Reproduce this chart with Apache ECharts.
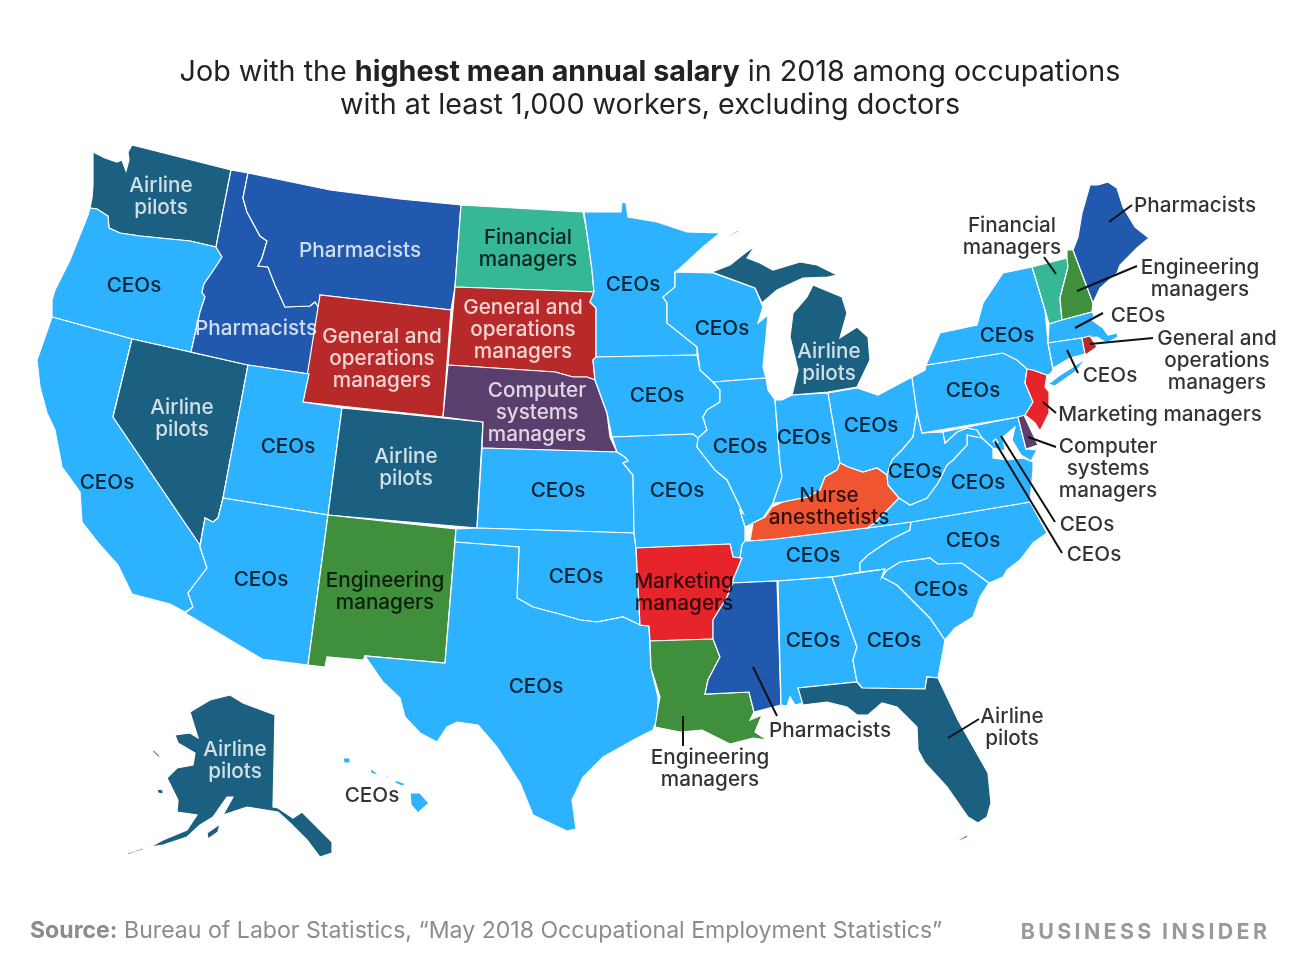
<!DOCTYPE html>
<html>
<head>
<meta charset="utf-8">
<style>html,body{margin:0;background:#fff}#container{width:1300px;height:975px}</style>
<script src="https://cdn.jsdelivr.net/npm/echarts@6/dist/echarts.min.js"></script>
</head>
<body>
<div id="container"></div>
<script>
// categories and which states fall in each
var jobs = ['CEOs','Airline pilots','Pharmacists','Financial managers','General and operations managers',
            'Computer systems managers','Engineering managers','Marketing managers','Nurse anesthetists'];
var ceoStates = ['OR','CA','UT','AZ','MN','WI','IA','IL','IN','OH','PA','NY','MA','CT','MD','DC','VA','WV','NC','SC','TN','AL','GA','MO','KS','OK','TX','HI'];
var airlineStates = ['WA','NV','CO','MI','FL','AK'];
var pharmacistStates = ['ID','MT','MS','ME'];
var financialStates = ['ND','VT'];
var generalStates = ['WY','SD','RI'];
var computerStates = ['NE','DE'];
var engineeringStates = ['NM','LA','NH'];
var marketingStates = ['AR','NJ'];
var nurseStates = ['KY'];
var jobStates = [ceoStates,airlineStates,pharmacistStates,financialStates,generalStates,computerStates,engineeringStates,marketingStates,nurseStates];
var jobColors = ['#2DB2FF','#1B6081','#2059AD','#36B897','#B82A2A','#5A3F6E','#3F8F3C','#E8242B','#EE5530'];

// hand traced state shapes, in the picture's own units
var shapes = {
  WA:[[[93,152],[105,158],[117,162],[122,160],[126,171],[129,160],[128,152],[132,145],[231,170],[216,247],[190,241],[170,239],[140,236],[120,233],[109,228],[108,216],[97,209],[90,208],[92,198],[93,185],[93,170]]],
  OR:[[[90,208],[97,209],[108,216],[109,228],[120,233],[140,236],[170,239],[190,241],[216,247],[222,257],[215,268],[204,284],[202,292],[205,297],[200,312],[191,352],[132,339],[52,317],[52,300],[55,290],[70,260],[80,235],[88,215]]],
  CA:[[[52,317],[132,339],[113,417],[200,545],[200,547],[207,568],[188,593],[193,607],[185,612],[170,604],[132,594],[118,565],[100,545],[82,522],[80,492],[62,467],[55,430],[47,413],[40,387],[37,360]]],
  NV:[[[132,339],[248,365],[223,498],[218,518],[213,522],[205,518],[200,545],[113,417]]],
  ID:[[[231,170],[248,173],[243,198],[247,212],[260,236],[267,241],[262,258],[258,266],[268,267],[275,285],[285,307],[310,306],[315,302],[319,308],[309,374],[248,365],[191,352],[200,312],[205,297],[202,292],[204,284],[215,268],[222,257],[216,247]]],
  MT:[[[248,173],[330,190],[400,199],[461,205],[455,287],[451,310],[320,295],[319,308],[315,302],[310,306],[285,307],[275,285],[268,267],[258,266],[262,258],[267,241],[260,236],[247,212],[243,198]]],
  WY:[[[320,295],[451,310],[443,417],[303,402]]],
  UT:[[[248,365],[309,374],[303,402],[342,408],[328,515],[223,498]]],
  CO:[[[342,408],[483,422],[477,528],[328,515]]],
  AZ:[[[223,498],[328,515],[308,665],[262,659],[185,613],[193,607],[188,593],[207,568],[200,547],[205,518],[213,522],[218,518]]],
  NM:[[[328,515],[456,529],[445,663],[365,656],[363,660],[327,657],[325,667],[308,665]]],
  ND:[[[461,205],[583,212],[587,233],[592,270],[594,292],[455,287]]],
  SD:[[[455,287],[594,292],[590,302],[596,308],[596,357],[593,360],[595,380],[587,377],[573,377],[555,372],[448,365]]],
  NE:[[[448,365],[555,372],[573,377],[587,377],[595,380],[607,413],[610,437],[617,452],[482,448],[483,422],[443,417]]],
  KS:[[[482,448],[617,452],[625,457],[628,461],[623,463],[633,475],[634,533],[477,528]]],
  OK:[[[456,529],[477,528],[634,533],[636,548],[640,625],[623,617],[597,622],[580,620],[563,615],[533,607],[517,598],[519,547],[455,542]]],
  TX:[[[455,542],[519,547],[517,598],[533,607],[563,615],[580,620],[597,622],[623,617],[640,625],[649,626],[651,668],[658,697],[658,717],[653,730],[637,738],[603,757],[583,777],[572,800],[576,829],[567,831],[533,815],[520,783],[497,747],[478,725],[457,722],[447,727],[437,742],[420,733],[405,717],[400,698],[383,682],[365,656],[445,663]]],
  MN:[[[584,212],[621,212],[622,202],[626,203],[628,217],[657,222],[687,232],[720,233],[703,247],[678,270],[675,272],[675,287],[663,297],[667,303],[667,323],[697,347],[697,355],[596,357],[596,308],[590,302],[594,292],[592,270],[587,233]]],
  IA:[[[596,357],[697,355],[700,370],[713,382],[720,390],[720,402],[707,410],[703,417],[707,430],[698,438],[693,434],[612,437],[607,413],[595,380],[593,360]]],
  MO:[[[612,437],[693,434],[698,438],[697,447],[715,470],[727,480],[743,513],[740,510],[745,527],[745,541],[742,545],[740,558],[733,557],[730,544],[636,548],[634,533],[633,475],[623,463],[628,461],[625,457],[617,452]]],
  AR:[[[636,548],[730,544],[733,557],[742,558],[733,580],[727,597],[713,620],[713,639],[650,641],[649,626],[640,625]]],
  LA:[[[650,641],[713,639],[720,657],[708,680],[705,694],[749,692],[754,712],[750,720],[762,715],[755,732],[767,740],[753,738],[730,744],[702,730],[680,732],[655,727],[658,707],[660,697],[651,668]]],
  WI:[[[675,272],[713,273],[755,288],[763,307],[758,323],[768,315],[765,347],[763,367],[766,378],[713,382],[700,370],[697,347],[667,323],[667,303],[663,297],[675,287]]],
  IL:[[[713,382],[766,378],[768,390],[775,400],[780,463],[782,477],[773,503],[763,518],[745,527],[740,510],[743,513],[727,480],[715,470],[697,447],[698,438],[707,430],[703,417],[707,410],[720,402],[720,390]]],
  IN:[[[775,400],[782,400],[792,395],[828,393],[840,463],[837,470],[825,477],[820,490],[808,497],[783,502],[773,503],[782,477],[780,463]]],
  OH:[[[828,393],[857,388],[878,395],[912,377],[917,412],[913,437],[902,450],[892,460],[887,475],[877,468],[863,472],[848,467],[840,463]]],
  MI:[[[792,395],[828,392],[857,387],[870,360],[868,337],[857,327],[840,338],[847,313],[842,297],[813,285],[807,297],[793,313],[790,337],[798,370]],
      [[712,272],[730,265],[745,253],[755,246],[747,258],[760,263],[773,270],[800,262],[817,265],[837,275],[828,277],[803,278],[777,290],[762,303],[755,288]],
      [[730,235],[740,229],[738,232],[731,236]]],
  KY:[[[750,541],[776,539],[867,528],[875,523],[899,498],[888,485],[887,475],[877,468],[863,472],[848,467],[840,463],[837,470],[825,477],[820,490],[808,497],[783,502],[772,507],[765,517],[753,523]]],
  TN:[[[745,541],[750,541],[776,539],[867,528],[911,522],[910,530],[890,540],[868,555],[860,563],[860,572],[832,577],[778,581],[733,583],[733,580],[742,558],[740,558],[742,545]]],
  MS:[[[733,583],[777,581],[781,705],[754,712],[749,692],[705,694],[708,680],[720,657],[713,639],[713,620],[727,597]]],
  AL:[[[778,581],[832,577],[857,647],[853,660],[857,682],[798,688],[803,703],[795,705],[790,697],[787,706],[781,705]]],
  GA:[[[832,577],[885,569],[882,577],[897,585],[930,618],[945,640],[940,667],[938,678],[927,677],[925,689],[862,688],[857,682],[853,660],[857,647]]],
  FL:[[[798,688],[857,682],[862,688],[925,689],[927,677],[938,678],[958,720],[988,773],[991,803],[987,817],[978,823],[968,817],[947,787],[925,763],[918,750],[917,727],[897,707],[882,703],[868,715],[857,715],[847,707],[827,702],[803,705]],
      [[958,840],[967,835],[968,837],[959,841]]],
  SC:[[[882,577],[887,570],[900,562],[930,558],[938,564],[962,563],[989,583],[980,597],[973,617],[955,628],[945,640],[930,618],[897,585]]],
  NC:[[[911,522],[1030,502],[1047,533],[1033,543],[1020,560],[1007,570],[1003,577],[989,583],[962,563],[938,564],[930,558],[900,562],[887,570],[882,577],[885,569],[860,572],[860,563],[868,555],[890,540],[910,530]]],
  VA:[[[899,498],[910,505],[927,498],[938,483],[947,465],[953,460],[967,445],[967,435],[982,438],[993,448],[993,458],[1007,460],[1023,458],[1033,462],[1033,470],[1030,502],[911,522],[867,528],[875,523]]],
  WV:[[[899,498],[888,485],[887,475],[892,460],[902,450],[913,437],[917,412],[922,433],[943,432],[945,443],[957,432],[967,428],[977,430],[982,438],[967,435],[967,445],[953,460],[947,465],[938,483],[927,498],[910,505]]],
  MD:[[[943,432],[1018,417],[1026,449],[1037,450],[1031,461],[1021,455],[1012,440],[1015,427],[1003,437],[1005,451],[993,448],[982,438],[977,430],[967,428],[957,432],[945,443]]],
  DC:[[[993,441],[996,439],[998,442],[995,444]]],
  DE:[[[1018,413],[1023,413],[1038,445],[1026,449],[1018,417]]],
  PA:[[[912,377],[925,370],[926,365],[1003,353],[1017,360],[1027,369],[1025,383],[1033,402],[1025,415],[1018,417],[922,433],[917,412]]],
  NJ:[[[1033,370],[1047,375],[1045,387],[1049,392],[1049,413],[1042,427],[1040,431],[1035,423],[1025,415],[1033,402],[1025,383],[1027,369]]],
  NY:[[[926,365],[940,333],[977,325],[983,303],[1003,273],[1032,267],[1037,283],[1045,310],[1048,343],[1053,370],[1050,374],[1047,375],[1033,370],[1027,369],[1017,360],[1003,353]],
      [[1048,384],[1060,375],[1087,358],[1075,372],[1055,386]]],
  VT:[[[1032,267],[1067,258],[1068,267],[1060,298],[1062,320],[1049,324],[1045,310],[1037,283]]],
  NH:[[[1067,250],[1073,250],[1093,303],[1092,312],[1062,320],[1060,298],[1068,267],[1067,258]]],
  ME:[[[1073,250],[1078,237],[1082,213],[1090,185],[1098,185],[1108,182],[1117,188],[1123,207],[1135,227],[1149,238],[1137,248],[1120,265],[1117,273],[1100,288],[1093,303]]],
  MA:[[[1049,324],[1062,320],[1092,312],[1094,315],[1092,320],[1103,328],[1108,335],[1117,333],[1118,337],[1107,343],[1097,337],[1082,338],[1048,343]]],
  CT:[[[1048,343],[1082,338],[1085,354],[1070,358],[1053,368]]],
  RI:[[[1082,338],[1090,336],[1097,347],[1087,354],[1085,354]]],
  AK:[[[230,695],[243,703],[275,715],[273,807],[278,808],[293,818],[302,812],[332,842],[332,853],[320,857],[307,840],[290,823],[278,812],[247,807],[223,815],[233,797],[227,797],[213,817],[200,825],[187,837],[163,845],[150,847],[163,840],[187,830],[197,815],[177,812],[178,800],[167,778],[177,768],[193,765],[195,753],[178,743],[175,735],[190,733],[198,738],[190,712],[210,700]],
      [[207,833],[220,824],[218,832],[208,839]],
      [[150,848],[135,852],[125,856],[128,853],[140,849]],
      [[152,748],[161,757],[158,757],[153,752]],
      [[157,789],[163,790],[163,794],[158,793]]],
  HI:[[[410,793],[420,793],[429,803],[418,813],[411,805]],
      [[395,780],[406,784],[402,786],[395,783]],
      [[385,776],[393,777],[393,778],[385,778]],
      [[370,768],[377,773],[377,775],[371,773]],
      [[343,758],[350,758],[350,763],[344,763]]]
};

// text on the map: [text, x, y, white?]
var stateLabels = [
  ['Airline\npilots',161,196,1],['Pharmacists',360,250,1],['Financial\nmanagers',528,248,0],['CEOs',134,285,0],
  ['Pharmacists',256,328,1],['General and\noperations\nmanagers',382,358,1],['General and\noperations\nmanagers',523,329,1],
  ['Computer\nsystems\nmanagers',537,412,1],['CEOs',633,284,0],['CEOs',722,328,0],['Airline\npilots',829,362,1],
  ['CEOs',657,395,0],['CEOs',740,446,0],['CEOs',804,437,0],['CEOs',871,425,0],['CEOs',973,390,0],['CEOs',1007,335,0],
  ['CEOs',915,471,0],['CEOs',978,482,0],['CEOs',973,540,0],['CEOs',941,589,0],['CEOs',813,555,0],['CEOs',813,640,0],
  ['CEOs',894,640,0],['CEOs',677,490,0],['CEOs',558,490,0],['CEOs',576,576,0],['CEOs',536,686,0],
  ['Marketing\nmanagers',684,592,0],['Engineering\nmanagers',385,591,0],['Airline\npilots',406,467,1],['CEOs',288,446,0],
  ['Airline\npilots',182,418,1],['CEOs',107,482,0],['CEOs',261,579,0],['Nurse\nanesthetists',829,506,0],
  ['Airline\npilots',235,760,1],['CEOs',372,795,0],
  ['Pharmacists',1195,205,0],['Financial\nmanagers',1012,236,0],['Engineering\nmanagers',1200,278,0],['CEOs',1138,315,0],
  ['General and\noperations\nmanagers',1217,360,0],['CEOs',1110,375,0],['Marketing managers',1160,414,0],
  ['Computer\nsystems\nmanagers',1108,468,0],['CEOs',1087,524,0],['CEOs',1094,554,0],['Pharmacists',830,730,0],
  ['Airline\npilots',1012,727,0],['Engineering\nmanagers',710,768,0]
];

// leader lines from small states out to their text
var leaders = [
  [[1109,222],[1132,205]],[[1044,257],[1056,274]],[[1077,291],[1137,266]],[[1075,328],[1103,313]],
  [[1090,344],[1153,338]],[[1067,350],[1078,373]],[[1043,402],[1056,413]],[[1028,437],[1056,447]],
  [[1001,436],[1055,522]],[[995,442],[1062,553]],[[753,667],[777,716]],[[683,716],[683,746]],[[948,738],[979,719]]
];

function flip(p){ return [p[0],-p[1]]; }

var features = Object.keys(shapes).map(function(name){
  return {
    type:'Feature',
    properties:{name:name},
    geometry:{
      type:'MultiPolygon',
      coordinates:shapes[name].map(function(ring){ return [ring.map(flip)]; })
    }
  };
});
echarts.registerMap('usa',{type:'FeatureCollection',features:features});

var regions = [];
jobStates.forEach(function(list,i){
  list.forEach(function(s){
    regions.push({name:s,itemStyle:{areaColor:jobColors[i]}});
  });
});

var font = 'Inter';
var myChart = echarts.init(document.getElementById('container'));
var option = {
  backgroundColor:'#fff',
  animation:false,
  title:[
    {
      text:'Job with the {b|highest mean annual salary} in 2018 among occupations\nwith at least 1,000 workers, excluding doctors',
      left:645,top:51,
      textAlign:'center',
      textStyle:{
        fontFamily:font,fontSize:28.7,fontWeight:'normal',color:'#222',lineHeight:33,
        rich:{b:{fontFamily:font,fontSize:28.7,fontWeight:'bold',color:'#222',lineHeight:33}}
      }
    },
    {
      text:'{b|Source:} Bureau of Labor Statistics, \u201cMay 2018 Occupational Employment Statistics\u201d',
      left:25,top:915,
      textStyle:{
        fontFamily:font,fontSize:23.1,fontWeight:'normal',color:'#8c8c8c',
        rich:{b:{fontFamily:font,fontSize:23.1,fontWeight:'bold',color:'#8c8c8c'}}
      }
    },
    {
      text:'B\u2009U\u2009S\u2009I\u2009N\u2009E\u2009S\u2009S\u2002I\u2009N\u2009S\u2009I\u2009D\u2009E\u2009R',
      right:28,top:917,
      textStyle:{fontFamily:font,fontSize:21.4,fontWeight:'bold',color:'#9a9a9a'}
    }
  ],
  geo:{
    map:'usa',
    boundingCoords:[[0,0],[1300,-975]],
    layoutCenter:['50%','50%'],
    layoutSize:1300,
    aspectScale:1,
    roam:false,
    silent:true,
    label:{show:false},
    itemStyle:{areaColor:jobColors[0],borderColor:'#fff',borderWidth:1.2},
    regions:regions
  },
  series:[
    {
      type:'lines',
      coordinateSystem:'geo',
      silent:true,
      symbol:'none',
      lineStyle:{color:'#111',width:2,opacity:1,curveness:0},
      data:leaders.map(function(l){ return {coords:l.map(flip)}; }),
      z:3
    },
    {
      type:'scatter',
      coordinateSystem:'geo',
      silent:true,
      symbolSize:0,
      z:4,
      data:stateLabels.map(function(l){
        return {
          name:l[0],
          value:[l[1],-l[2]],
          label:{color:l[3]?'#fff':'#000'}
        };
      }),
      label:{
        show:true,position:'inside',formatter:'{b}',offset:[0,1],
        fontFamily:font,fontSize:20.7,fontWeight:500,lineHeight:22,align:'center',verticalAlign:'middle'
      }
    }
  ]
};
myChart.setOption(option,true);
</script>
</body>
</html>
